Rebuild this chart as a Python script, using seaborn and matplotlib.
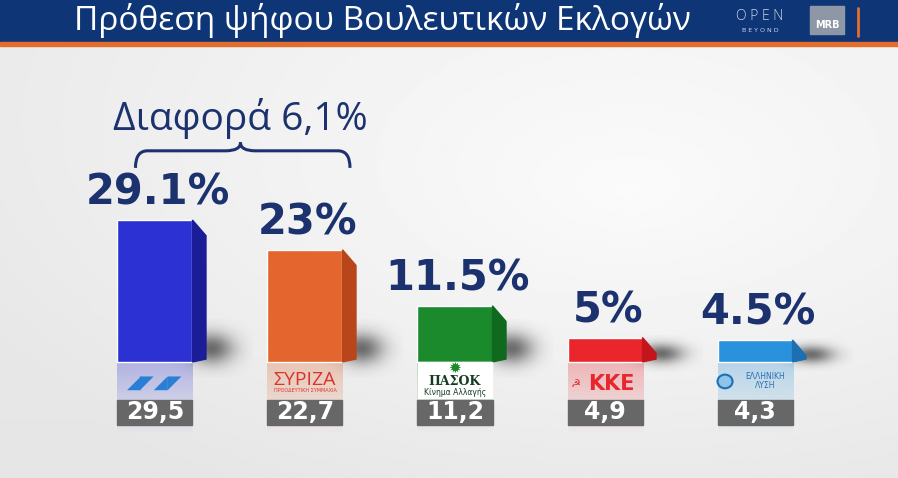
import numpy as np
import matplotlib
matplotlib.use("Agg")
import matplotlib.pyplot as plt
import seaborn as sns
from matplotlib.patches import Polygon, Rectangle, Ellipse, PathPatch
from matplotlib.path import Path

# --- data ---
parties = ["ΝΔ", "ΣΥΡΙΖΑ", "ΠΑΣΟΚ", "ΚΚΕ", "Ελληνική Λύση"]
values = [29.1, 23, 11.5, 5, 4.5]
value_labels = ["29.1%", "23%", "11.5%", "5%", "4.5%"]
previous = ["29,5", "22,7", "11,2", "4,9", "4,3"]
bar_colors = ["#2b31d2", "#e4652d", "#1b8a2c", "#e8262c", "#2a92dc"]
side_colors = ["#1a1c98", "#b8461a", "#0f6a1d", "#c3161c", "#1c6fb0"]
title = "Πρόθεση ψήφου Βουλευτικών Εκλογών"
gap_label = "Διαφορά 6,1%"

sns.set_theme(style="white")
plt.rcParams["font.family"] = ["DejaVu Sans"]

fig = plt.figure(figsize=(8.98, 4.78), dpi=100)

# background gradient
bg = fig.add_axes([0, 0, 1, 1])
bg.set_axis_off()
yy, xx = np.mgrid[0:1:200j, 0:1:300j]
grad = 0.90 + 0.07 * np.clip(1 - np.hypot(xx - 0.7, yy - 0.6) * 1.3, 0, 1) + 0.02 * yy
bg.imshow(grad, cmap="gray", vmin=0, vmax=1, extent=[0, 1, 0, 1], aspect="auto", origin="lower")
bg.set_xlim(0, 1)
bg.set_ylim(0, 1)

# title bar
bg.add_patch(Rectangle((0, 1 - 42 / 478), 1, 42 / 478, color="#0e3677", zorder=2))
bg.add_patch(Rectangle((0, 1 - 46 / 478), 1, 4 / 478, color="#e56d2c", zorder=2))
bg.text(382 / 898, 1 - 21 / 478, title, color="white", fontsize=24, ha="center", va="center",
        family=["Open Sans", "DejaVu Sans"], zorder=3)
bg.text(760 / 898, 1 - 16 / 478, "O P E N", color="#c9d4e6", fontsize=10, ha="center", va="center",
        family=["Open Sans"], fontweight="light", zorder=3)
bg.text(760 / 898, 1 - 30 / 478, "B E Y O N D", color="#c9d4e6", fontsize=4.5, ha="center", va="center", zorder=3)
bg.add_patch(Rectangle((810 / 898, 1 - 34 / 478), 34 / 898, 28 / 478, color="#8d97a6", zorder=3))
bg.text(827 / 898, 1 - 25 / 478, "MRB", color="white", fontsize=7, fontweight="bold", ha="center", va="center", zorder=4)
bg.plot([858 / 898, 858 / 898], [1 - 8 / 478, 1 - 36 / 478], color="#e56d2c", lw=2, zorder=3)

# main axes
ax = fig.add_axes([0, 0, 1, 433 / 478])
ax.patch.set_alpha(0)
sns.barplot(x=parties, y=values, hue=parties, palette=bar_colors, legend=False,
            width=0.5, saturation=1, ax=ax, zorder=3)
ax.set_xlim(-1.033, 4.953)
ax.set_ylim(-23.8, 65)
ax.set_axis_off()

# gaussian blob used for soft shadows
gu, gv = np.meshgrid(np.linspace(-1, 1, 60), np.linspace(-1, 1, 60))
blob = np.zeros((60, 60, 4))
blob[..., 3] = 0.55 * np.exp(-(gu ** 2 + gv ** 2) * 3.5)

for i, p in enumerate(ax.patches[:len(values)]):
    x0, w, h = p.get_x(), p.get_width(), p.get_height()
    cx = x0 + w / 2
    dx = 0.09
    # side face
    ax.add_patch(Polygon([(x0 + w, 0), (x0 + w + dx, 0.6), (x0 + w + dx, h - 3.2), (x0 + w, h)],
                         closed=True, color=side_colors[i], zorder=3))
    # soft shadow right of the bar
    sh = min(h, 8)
    ax.imshow(blob, extent=[x0 + w - 0.15, x0 + w + 0.4, -sh * 0.4, sh * 1.1], aspect="auto", zorder=2)
    # reflection
    refl = np.linspace(0.30, 0.0, 50).reshape(-1, 1)
    rgba = np.zeros((50, 1, 4))
    rgba[..., :3] = matplotlib.colors.to_rgb(bar_colors[i])
    rgba[..., 3] = refl
    ax.imshow(rgba, extent=[x0, x0 + w, -15, 0], aspect="auto", zorder=2.5)
    # value label
    ax.text(cx + 0.02, h + 1.3, value_labels[i], ha="center", va="bottom", fontsize=30,
            fontweight="bold", color="#1c326f", zorder=5)
    # previous value box
    ax.add_patch(Rectangle((x0, -12.9), w, 5.1, color="#676767", zorder=4))
    ax.text(cx, -10.35, previous[i], ha="center", va="center", fontsize=17,
            fontweight="bold", color="white", zorder=5)

cxs = [p.get_x() + p.get_width() / 2 for p in ax.patches[:len(values)]]

# party marks
ax.text(cxs[0], -4.2, "◢◤◢◤", ha="center", va="center", fontsize=13, color="#2a7fd4", zorder=5)
ax.text(cxs[1], -3.6, "ΣΥΡΙΖΑ", ha="center", va="center", fontsize=14, color="#d9342b",
        family=["Open Sans", "DejaVu Sans"], zorder=5)
ax.text(cxs[1], -5.8, "ΠΡΟΟΔΕΥΤΙΚΗ ΣΥΜΜΑΧΙΑ", ha="center", va="center", fontsize=3.5,
        color="#d9342b", zorder=5)
ax.add_patch(Rectangle((cxs[2] - 0.245, -7.4), 0.49, 7.4, color="white", zorder=3))
ax.text(cxs[2], -1.2, "✹", ha="center", va="center", fontsize=11, color="#1b8a2c", zorder=5)
ax.text(cxs[2], -4.0, "ΠΑΣΟΚ", ha="center", va="center", fontsize=9, fontweight="bold",
        color="#143c20", family=["DejaVu Serif"], zorder=5)
ax.text(cxs[2], -6.2, "Κίνημα Αλλαγής", ha="center", va="center", fontsize=5.5,
        color="#143c20", zorder=5)
ax.text(cxs[3] - 0.2, -4.6, "☭", ha="center", va="center", fontsize=8, color="#e8262c", zorder=5)
ax.text(cxs[3] + 0.04, -4.6, "ΚΚΕ", ha="center", va="center", fontsize=15, fontweight="bold",
        color="#e8262c", zorder=5)
ax.add_patch(Ellipse((cxs[4] - 0.2, -4.0), 0.1, 2.8, facecolor="#8cc4ea", edgecolor="#1f6fb2",
                     lw=1.5, zorder=5))
ax.text(cxs[4] + 0.07, -4.0, "ΕΛΛΗΝΙΚΗ\nΛΥΣΗ", ha="center", va="center", fontsize=5.5,
        color="#2a6fb0", linespacing=1.0, zorder=5)

# brace over the two leading parties
bx0, bx1, bm = -0.13, 1.3, 0.57
yb, yt, ys = 39.8, 43.3, 45.0
verts = [(bx0, yb), (bx0, yt), (bx0 + 0.08, yt), (bm - 0.1, yt), (bm, yt), (bm, ys),
         (bm, yt), (bm + 0.1, yt), (bx1 - 0.08, yt), (bx1, yt), (bx1, yb)]
codes = [Path.MOVETO, Path.CURVE3, Path.CURVE3, Path.LINETO, Path.CURVE3, Path.CURVE3,
         Path.CURVE3, Path.CURVE3, Path.LINETO, Path.CURVE3, Path.CURVE3]
ax.add_patch(PathPatch(Path(verts, codes), fill=False, edgecolor="#1c326f", lw=2.2, zorder=5))
ax.text(bm, 50, gap_label, ha="center", va="center", fontsize=28, color="#1c326f",
        family=["Open Sans", "DejaVu Sans"], zorder=5)

fig.savefig("out.png", dpi=100)
